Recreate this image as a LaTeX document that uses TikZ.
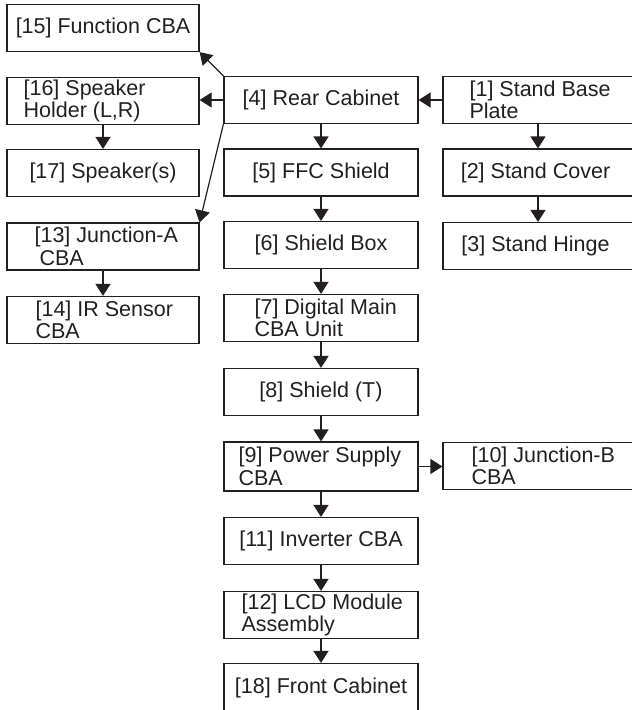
\documentclass[tikz,border=0pt]{standalone}
\usepackage{fontspec}
\setmainfont{Liberation Sans}
\usetikzlibrary{arrows.meta}
\definecolor{ink}{RGB}{35,31,32}
\begin{document}
\begin{tikzpicture}[x=1pt,y=-1pt,
  box/.style={draw=ink, line width=1.2pt, rectangle, inner sep=0pt,
    minimum height=47pt, text=ink, font=\fontsize{21.5}{22.5}\selectfont},
  lcol/.style={box, minimum width=192pt},
  ccol/.style={box, minimum width=194pt},
  rcol/.style={box, minimum width=190pt},
  txt/.style={anchor=west, inner sep=0pt, align=left, text=ink,
    font=\fontsize{21.5}{22.5}\selectfont},
  arr/.style={draw=ink, line width=1.2pt, -{Triangle[length=12pt,width=15pt]}}]
\useasboundingbox (0,0) rectangle (632,710);
% left column
\node[lcol] (n15) at (103,28) {[15] Function CBA};
\node[lcol] (n16) at (103,101) {};
\node[txt] (t16) at ([xshift=17pt]n16.west) {[16] Speaker\\Holder (L,R)};
\node[lcol] (n17) at (103,173) {[17] Speaker(s)};
\node[lcol] (n13) at (103,246.5) {};
\node[txt] (t13) at ([xshift=28pt]n13.west) {[13] Junction-A\\\hspace*{5pt}CBA};
\node[lcol] (n14) at (103,320) {};
\node[txt] (t14) at ([xshift=29pt]n14.west) {[14] IR Sensor\\CBA};
% centre column
\node[ccol] (n4) at (321,100) {[4] Rear Cabinet};
\node[ccol] (n5) at (321,172.5) {[5] FFC Shield};
\node[ccol] (n6) at (321,245) {[6] Shield Box};
\node[ccol] (n7) at (321,318) {};
\node[txt] (t7) at ([xshift=31pt]n7.west) {[7] Digital Main\\CBA Unit};
\node[ccol] (n8) at (321,392) {[8] Shield (T)};
\node[ccol, minimum height=49pt] (n9) at (321,466.5) {};
\node[txt] (t9) at ([xshift=15pt]n9.west) {[9] Power Supply\\CBA};
\node[ccol] (n11) at (321,541) {[11] Inverter CBA};
\node[ccol] (n12) at (321,615) {};
\node[txt] (t12) at ([xshift=18pt]n12.west) {[12] LCD Module\\Assembly};
\node[ccol, minimum height=48pt] (n18) at (321,687.5) {[18] Front Cabinet};
% right column
\node[rcol] (n1) at (538,100) {};
\node[txt] (t1) at ([xshift=27pt]n1.west) {[1] Stand Base\\Plate};
\node[rcol] (n2) at (538,172.5) {\hspace*{-5pt}[2] Stand Cover};
\node[rcol] (n3) at (538,246) {\hspace*{-5pt}[3] Stand Hinge};
\node[rcol] (n10) at (538,466) {};
\node[txt] (t10) at ([xshift=29pt]n10.west) {[10] Junction-B\\CBA};
% connectors
\draw[arr] (n4.north west) -- (n15.south east);
\draw[arr] (n4.south west) -- (n13.north east);
\draw[arr] (n4.west) -- (n4.west -| n16.east);
\draw[arr] (n1.west) -- (n4.east);
\draw[arr] (n16.south) -- (n17.north);
\draw[arr] (n13.south) -- (n14.north);
\draw[arr] (n4.south) -- (n5.north);
\draw[arr] (n5.south) -- (n6.north);
\draw[arr] (n6.south) -- (n7.north);
\draw[arr] (n7.south) -- (n8.north);
\draw[arr] (n8.south) -- (n9.north);
\draw[arr] (n9.south) -- (n11.north);
\draw[arr] (n11.south) -- (n12.north);
\draw[arr] (n12.south) -- (n18.north);
\draw[arr] (n9.east) -- (n9.east -| n10.west);
\draw[arr] (n1.south) -- (n2.north);
\draw[arr] (n2.south) -- (n3.north);
\end{tikzpicture}
\end{document}
